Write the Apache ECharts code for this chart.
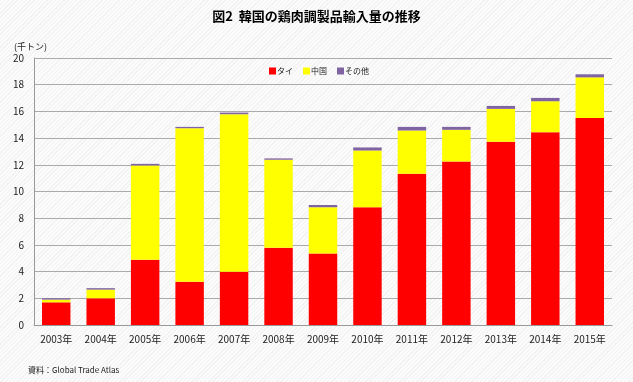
<!DOCTYPE html>
<html><head><meta charset="utf-8">
<script src="https://cdn.jsdelivr.net/npm/echarts@6/dist/echarts.min.js"></script>
<style>
html,body{margin:0;padding:0;}
body{background:#f9f9f9 repeating-linear-gradient(135deg,#f2f2f2 0px,#f2f2f2 1px,#fbfbfb 1px,#fbfbfb 3px);}
#c{width:633px;height:382px;}
</style></head>
<body><div id="c"></div>
<script>
const categories = ['2003年','2004年','2005年','2006年','2007年','2008年','2009年','2010年','2011年','2012年','2013年','2014年','2015年'];
const thai  = [1.70, 2.00, 4.88, 3.24, 3.98, 5.78, 5.35, 8.82, 11.33, 12.25, 13.72, 14.44, 15.51];
const china = [0.20, 0.65, 7.07, 11.50, 11.81, 6.60, 3.47, 4.25, 3.24, 2.37, 2.47, 2.32, 3.04];
const other = [0.10, 0.11, 0.12, 0.10, 0.12, 0.10, 0.17, 0.23, 0.27, 0.22, 0.22, 0.25, 0.23];
const yTicks = [0,2,4,6,8,10,12,14,16,18,20];

const font = '"Noto Sans CJK JP", "Noto Sans", sans-serif';
const chart = echarts.init(document.getElementById('c'), null, {renderer:'canvas'});
chart.setOption({
  backgroundColor: 'transparent',
  animation: false,
  textStyle: {fontFamily: font},
  title: [
    {text: '図2  韓国の鶏肉調製品輸入量の推移', left: 'center', top: 5,
     textStyle: {fontSize: 13, fontWeight: 'bold', color: '#000', fontFamily: font}},
    {text: '(千トン)', left: 9, top: 37, textStyle: {fontSize: 9, fontWeight: 'normal', color: '#222', fontFamily: font}},
    {text: '資料：Global Trade Atlas', left: 23, top: 361, textStyle: {fontSize: 8, fontWeight: 'normal', color: '#222', fontFamily: font}}
  ],
  legend: {
    top: 62, left: 264, itemWidth: 7, itemHeight: 7, itemGap: 10,
    icon: 'rect',
    textStyle: {fontSize: 8, color: '#222', padding: [0,0,0,-4]},
    data: ['タイ','中国','その他']
  },
  grid: {left: 34, right: 21, top: 58, bottom: 57},
  xAxis: {
    type: 'category', data: categories,
    axisLine: {lineStyle: {color: '#999'}},
    axisTick: {show: false},
    axisLabel: {fontSize: 10, color: '#222', margin: 9}
  },
  yAxis: {
    type: 'value', min: yTicks[0], max: yTicks[yTicks.length-1], interval: 2,
    axisLine: {show: true, lineStyle: {color: '#999'}},
    axisTick: {show: false},
    axisLabel: {fontSize: 10, color: '#222', margin: 10},
    splitLine: {lineStyle: {color: '#aaa', width: 1}}
  },
  series: [
    {name: 'タイ', type: 'bar', stack: 's', data: thai, barWidth: '64%',
     itemStyle: {color: '#ff0000'}},
    {name: '中国', type: 'bar', stack: 's', data: china,
     itemStyle: {color: '#ffff00'}},
    {name: 'その他', type: 'bar', stack: 's', data: other,
     itemStyle: {color: '#8064a2'}}
  ]
});
</script>
</body></html>
